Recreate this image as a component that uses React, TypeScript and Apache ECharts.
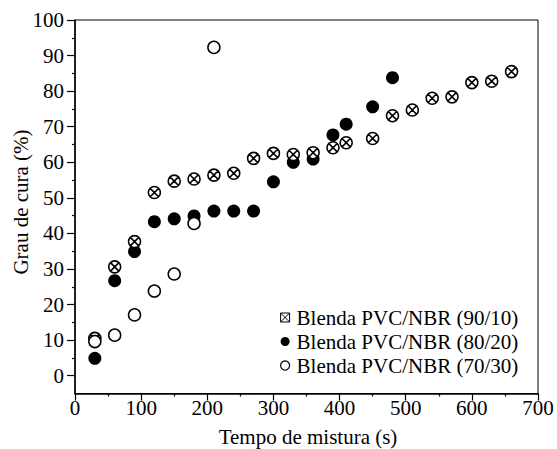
import React, { useEffect, useRef } from "react";
import * as echarts from "echarts";

const seriesNames = ["Blenda PVC/NBR (90/10)", "Blenda PVC/NBR (80/20)", "Blenda PVC/NBR (70/30)"];

const time9010 = [30, 60, 90, 120, 150, 180, 210, 240, 270, 300, 330, 360, 390, 410, 450, 480, 510, 540, 570, 600, 630, 660];
const cure9010 = [10.5, 30.6, 37.7, 51.5, 54.7, 55.3, 56.4, 56.9, 61.1, 62.5, 62.2, 62.7, 64.1, 65.5, 66.7, 73.1, 74.7, 78.0, 78.4, 82.4, 82.8, 85.5];

const time8020 = [30, 60, 90, 120, 150, 180, 210, 240, 270, 300, 330, 360, 390, 410, 450, 480];
const cure8020 = [4.9, 26.7, 34.9, 43.3, 44.1, 44.9, 46.3, 46.3, 46.3, 54.5, 60.0, 60.9, 67.7, 70.7, 75.6, 83.8];

const time7030 = [30, 60, 90, 120, 150, 180, 210];
const cure7030 = [9.6, 11.4, 17.1, 23.8, 28.6, 42.8, 92.3];

const yMajorTicks = [0, 10, 20, 30, 40, 50, 60, 70, 80, 90, 100];
const yMinorTicks = [5, 15, 25, 35, 45, 55, 65, 75, 85, 95];

const xTitle = "Tempo de mistura (s)";
const yTitle = "Grau de cura (%)";

const FONT = "Liberation Serif";

const crossedCircle =
  "path://M10,0 A10,10 0 1,1 10,20 A10,10 0 1,1 10,0 Z M3,3 L17,17 M17,3 L3,17";
const crossedSquare = "path://M0,0 L10,0 L10,10 L0,10 Z M0,0 L10,10 M10,0 L0,10";

const zip = (xs: number[], ys: number[]) => xs.map((x, i) => [x, ys[i]]);

export default function App() {
  const ref = useRef<HTMLDivElement>(null);
  useEffect(() => {
    document.body.style.margin = "0";
    if (!ref.current) return;
    const chart = echarts.init(ref.current, null, { renderer: "svg" });
    chart.setOption({
      animation: false,
      backgroundColor: "#fff",
      textStyle: { fontFamily: FONT, color: "#000" },
      grid: {
        left: 75,
        right: 19,
        top: 20,
        bottom: 55.5,
        show: true,
        borderColor: "#000",
        borderWidth: 1,
        outerBoundsMode: "none",
      },
      xAxis: {
        type: "value",
        min: 0,
        max: 700,
        interval: 100,
        axisLine: { show: true, onZero: false, lineStyle: { color: "#000", width: 1.5 } },
        axisTick: { show: true, length: 7, lineStyle: { color: "#000", width: 1.2 } },
        minorTick: { show: true, splitNumber: 2, length: 3, lineStyle: { color: "#000", width: 1.2 } },
        splitLine: { show: false },
        axisLabel: { color: "#000", fontFamily: FONT, fontSize: 21, margin: 4 },
      },
      yAxis: [
        {
          type: "value",
          min: -5,
          max: 100,
          axisLine: { show: true, onZero: false, lineStyle: { color: "#000", width: 1.5 } },
          axisTick: { show: true, length: 8, customValues: yMajorTicks, lineStyle: { color: "#000", width: 1.2 } },
          axisLabel: { color: "#000", fontFamily: FONT, fontSize: 21, margin: 11, customValues: yMajorTicks },
          splitLine: { show: false },
        },
        {
          type: "value",
          min: -5,
          max: 100,
          position: "left",
          axisLine: { show: false, onZero: false },
          axisTick: { show: true, length: 3, customValues: yMinorTicks, lineStyle: { color: "#000", width: 1.2 } },
          axisLabel: { show: false, customValues: yMinorTicks },
          splitLine: { show: false },
        },
      ],
      legend: {
        orient: "vertical",
        left: 275,
        top: 302,
        itemWidth: 9,
        itemHeight: 9,
        itemGap: 3,
        textStyle: { color: "#000", fontFamily: FONT, fontSize: 21, padding: [0, 0, 0, 2] },
        data: [
          { name: seriesNames[0], icon: crossedSquare, itemStyle: { color: "#fff", borderColor: "#000", borderWidth: 1 } },
          { name: seriesNames[1], icon: "circle", itemStyle: { color: "#000", borderWidth: 0 } },
          { name: seriesNames[2], icon: "circle", itemStyle: { color: "#fff", borderColor: "#000", borderWidth: 1.2 } },
        ],
      },
      series: [
        {
          name: seriesNames[1],
          type: "scatter",
          z: 2,
          data: zip(time8020, cure8020),
          symbol: "circle",
          symbolSize: 13,
          itemStyle: { color: "#000", opacity: 1 },
        },
        {
          name: seriesNames[0],
          type: "scatter",
          z: 3,
          data: zip(time9010, cure9010),
          symbol: crossedCircle,
          symbolSize: 12,
          itemStyle: { color: "#fff", borderColor: "#000", borderWidth: 1.6, opacity: 1 },
        },
        {
          name: seriesNames[2],
          type: "scatter",
          z: 4,
          data: zip(time7030, cure7030),
          symbol: "circle",
          symbolSize: 12,
          itemStyle: { color: "#fff", borderColor: "#000", borderWidth: 1.5, opacity: 1 },
        },
      ],
      graphic: [
        {
          type: "text",
          x: 21,
          y: 202,
          rotation: Math.PI / 2,
          style: { text: yTitle, fill: "#000", fontFamily: FONT, fontSize: 21, align: "center", verticalAlign: "middle" },
        },
        {
          type: "text",
          x: 308,
          y: 437,
          style: { text: xTitle, fill: "#000", fontFamily: FONT, fontSize: 21, align: "center", verticalAlign: "middle" },
        },
      ],
    });
    return () => chart.dispose();
  }, []);
  return <div ref={ref} style={{ width: 557, height: 449 }} />;
}
